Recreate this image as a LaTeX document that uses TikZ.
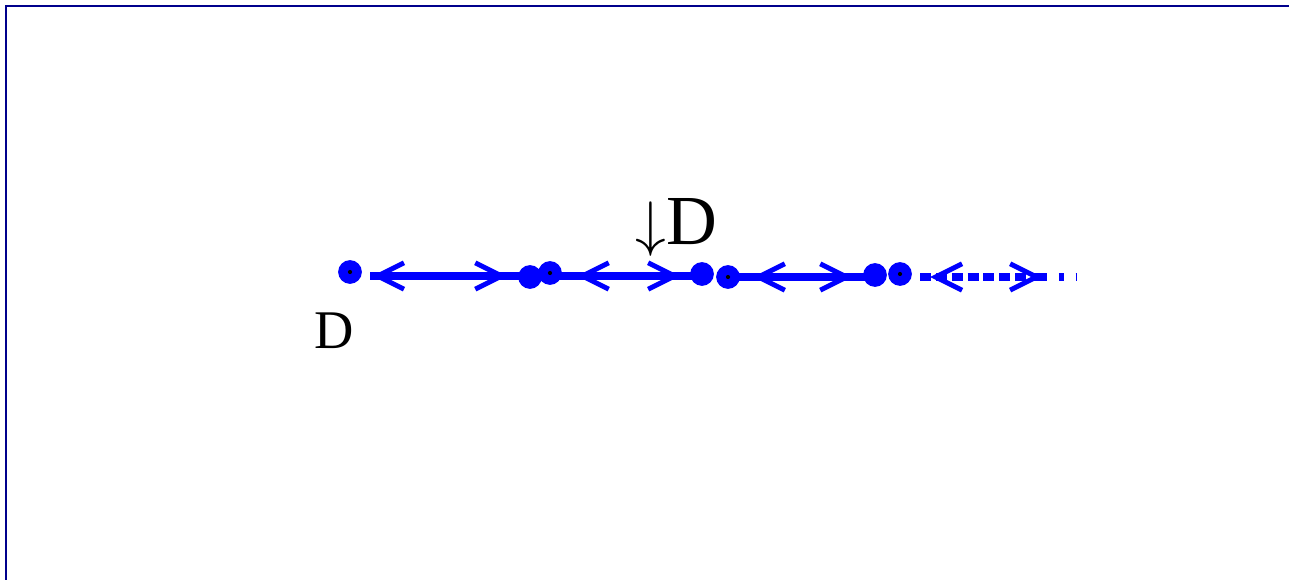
\RequirePackage{fix-cm}
\documentclass[tikz,border=0pt]{standalone}
\usepackage{fontspec}
\setmainfont{Liberation Serif}
\usetikzlibrary{arrows.meta,decorations.markings}
\definecolor{framenavy}{RGB}{0,0,140}
\begin{document}
\begin{tikzpicture}[x=0.02cm,y=-0.02cm,
  barb/.tip={Straight Barb[length=15pt,width=15pt,line width=2.8pt]},
  dot/.style={circle, fill=blue, inner sep=0pt, minimum size=13.5pt},
  sdot/.style={dot, path picture={\fill[black] (path picture bounding box.center) circle (1.2pt);}},
  seg/.style={blue, line width=4.4pt},
  tips/.style 2 args={postaction={decorate}, decoration={markings,
    mark=at position #1 with {\arrowreversed{barb}},
    mark=at position #2 with {\arrow{barb}}}}]
\useasboundingbox (0,0) rectangle (1289,580);
\draw[framenavy, line width=1.2pt] (6,580) -- (6,6) -- (1289,6);
% points on the line
\coordinate (p1) at (350,272);
\coordinate (q1) at (530,277);
\coordinate (p2) at (550,273);
\coordinate (q2) at (702,274);
\coordinate (p3) at (728,277);
\coordinate (q3) at (875,275);
\coordinate (p4) at (900,274);
\coordinate (m4) at (1042,277);
\coordinate (e4) at (1076,277);
% segments
\draw[seg, tips={1.1pt}{-13pt}] ([xshift=11.5pt]p1 |- 0,276) -- (q1 |- 0,276);
\draw[seg, tips={15.3pt}{-12.5pt}] (p2 |- 0,276) -- (q2 |- 0,276);
\draw[seg, tips={14.2pt}{-13pt}] (p3 |- 0,277) -- (q3 |- 0,277);
\draw[seg, dash pattern=on 6.2pt off 2.8pt, tips={5.7pt}{1}] ([xshift=11.5pt]p4 |- 0,277) -- (m4);
\draw[seg, dash pattern=on 2.8pt off 6.8pt] (m4) -- (e4);
% the points, drawn over the segments
\node[sdot] (n1) at (p1){};
\node[dot] (n2) at (q1){};
\node[sdot] (n3) at (p2){};
\node[dot] (n4) at (q2){};
\node[sdot] (n5) at (p3){};
\node[dot] (n6) at (q3){};
\node[sdot] (n7) at (p4){};
% labels
\node[anchor=base west, inner sep=0pt, font=\fontsize{31}{31}\selectfont] (lbl1) at (314,349) {D};
\node[anchor=base west, inner sep=0pt] (lbl2) at (635,245)
  {{\fontsize{35}{35}\selectfont$\downarrow$}{\fontsize{40}{40}\selectfont D}};
\end{tikzpicture}
\end{document}
